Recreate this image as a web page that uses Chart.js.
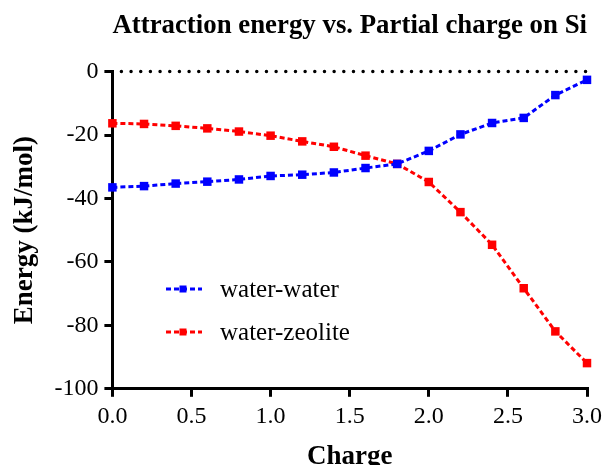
<!DOCTYPE html>
<html>
<head>
<meta charset="utf-8">
<script src="https://cdn.jsdelivr.net/npm/chart.js@4"></script>
<style>
  html, body { margin: 0; padding: 0; background: #fff; overflow: hidden; }
  #wrap { width: 608px; height: 465px; }
</style>
</head>
<body>
<div id="wrap"><canvas id="energyChart" width="608" height="465"></canvas></div>
<script>
const charges = [0.0, 0.2, 0.4, 0.6, 0.8, 1.0, 1.2, 1.4, 1.6, 1.8, 2.0, 2.2, 2.4, 2.6, 2.8, 3.0];
const waterWater = [-36.5, -36.1, -35.3, -34.7, -34.0, -32.9, -32.5, -31.8, -30.4, -29.1, -25.0, -19.8, -16.2, -14.6, -7.4, -2.6];
const waterZeolite = [-16.3, -16.5, -17.1, -17.9, -18.9, -20.2, -22.0, -23.7, -26.5, -29.1, -34.8, -44.3, -54.6, -68.3, -81.9, -91.9];
const seriesNames = ['water-water', 'water-zeolite'];

const serif = '"Liberation Serif", "Times New Roman", serif';

function toPoints(values) {
    return charges.map((c, i) => ({ x: c, y: values[i] }));
}

// dotted line at y = 0
const zeroLine = {
    id: 'zeroLine',
    beforeDatasetsDraw(chart) {
        const { ctx, chartArea, scales } = chart;
        const y = scales.y.getPixelForValue(0);
        ctx.save();
        ctx.strokeStyle = '#000';
        ctx.lineWidth = 3.5;
        ctx.lineCap = 'round';
        ctx.setLineDash([0, 9.67]);
        ctx.beginPath();
        ctx.moveTo(chartArea.left + 9, y);
        ctx.lineTo(chartArea.right, y);
        ctx.stroke();
        ctx.restore();
    }
};

// legend drawn inside the plot area
const innerLegend = {
    id: 'innerLegend',
    afterDatasetsDraw(chart) {
        const { ctx } = chart;
        const x0 = 166, rowY = [289, 332];
        chart.data.datasets.forEach((ds, i) => {
            const y = rowY[i];
            ctx.save();
            ctx.strokeStyle = ds.borderColor;
            ctx.lineWidth = ds.borderWidth;
            ctx.setLineDash(ds.borderDash);
            ctx.beginPath();
            ctx.moveTo(x0, y);
            ctx.lineTo(x0 + 36, y);
            ctx.stroke();
            ctx.setLineDash([]);
            ctx.fillStyle = ds.backgroundColor;
            ctx.fillRect(x0 + 17 - 3.5, y - 3.5, 7, 7);
            ctx.fillStyle = '#000';
            ctx.font = '25px ' + serif;
            ctx.textBaseline = 'middle';
            ctx.fillText(ds.label, x0 + 54, y + 1);
            ctx.restore();
        });
    }
};

const ctx = document.getElementById('energyChart').getContext('2d');
const energyChart = new Chart(ctx, {
    type: 'line',
    data: {
        datasets: [{
            label: seriesNames[0],
            data: toPoints(waterWater),
            borderColor: '#0000ff',
            backgroundColor: '#0000ff',
            borderWidth: 3,
            borderDash: [5, 3],
            pointStyle: 'rect',
            pointRadius: 6,
            pointHoverRadius: 6,
            pointBorderWidth: 0,
            clip: false
        }, {
            label: seriesNames[1],
            data: toPoints(waterZeolite),
            borderColor: '#ff0000',
            backgroundColor: '#ff0000',
            borderWidth: 3,
            borderDash: [5, 3],
            pointStyle: 'rect',
            pointRadius: 6,
            pointHoverRadius: 6,
            pointBorderWidth: 0,
            clip: false
        }]
    },
    options: {
        responsive: false,
        animation: false,
        layout: { padding: { left: 9, right: -4, top: 0, bottom: -8 } },
        plugins: {
            legend: { display: false },
            tooltip: { enabled: false },
            title: {
                display: true,
                fullSize: false,
                text: 'Attraction energy vs. Partial charge on Si',
                color: '#000',
                font: { family: serif, size: 28, weight: 'bold' },
                padding: { top: 9, bottom: 29 }
            }
        },
        scales: {
            x: {
                type: 'linear',
                min: 0,
                max: 3,
                border: { color: '#000', width: 3 },
                grid: { drawOnChartArea: false, color: '#000', lineWidth: 3, tickLength: 8 },
                ticks: {
                    stepSize: 0.5,
                    color: '#000',
                    padding: 6,
                    font: { family: serif, size: 24 },
                    callback: v => v.toFixed(1)
                },
                title: {
                    display: true,
                    text: 'Charge',
                    color: '#000',
                    font: { family: serif, size: 27, weight: 'bold' },
                    padding: { top: 3, bottom: 0 }
                }
            },
            y: {
                min: -100,
                max: 0,
                border: { color: '#000', width: 3 },
                grid: { drawOnChartArea: false, color: '#000', lineWidth: 3, tickLength: 8 },
                ticks: {
                    stepSize: 20,
                    color: '#000',
                    padding: 6,
                    font: { family: serif, size: 24 }
                },
                title: {
                    display: true,
                    text: 'Energy (kJ/mol)',
                    color: '#000',
                    font: { family: serif, size: 27, weight: 'bold' },
                    padding: { top: 0, bottom: 7 }
                }
            }
        }
    },
    plugins: [zeroLine, innerLegend]
});
</script>
</body>
</html>
